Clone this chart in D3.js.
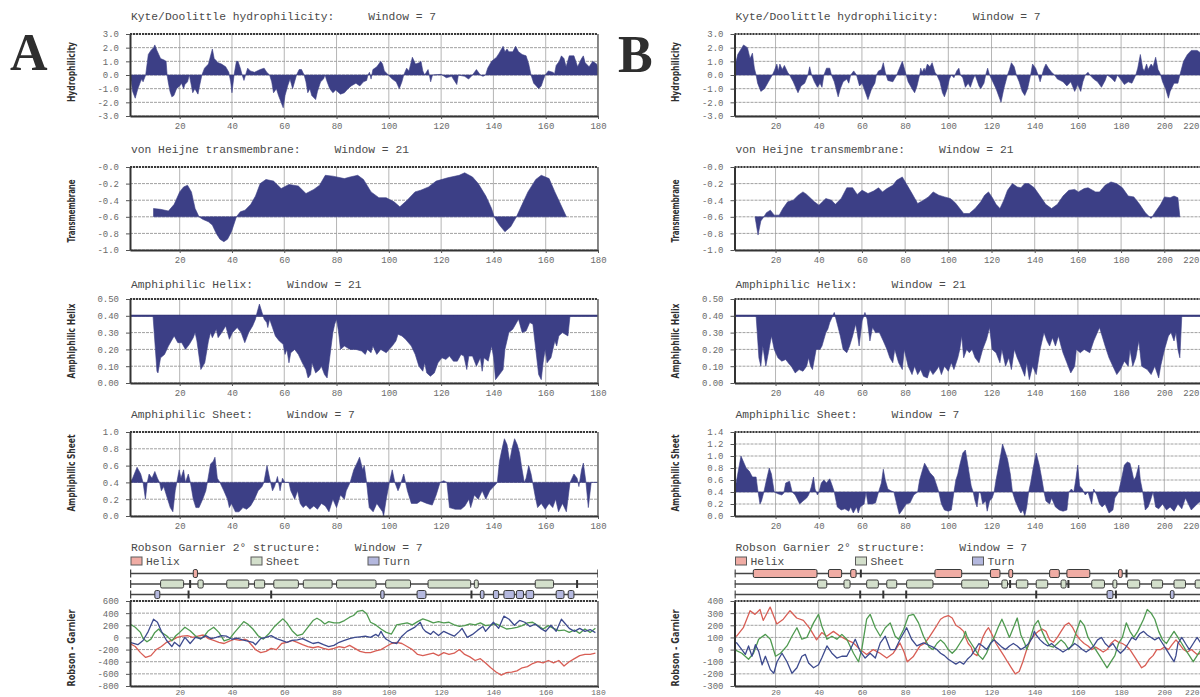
<!DOCTYPE html>
<html><head><meta charset="utf-8">
<script src="https://cdn.jsdelivr.net/npm/d3@7"></script>
<style>body{margin:0;background:#fff}svg{display:block}</style>
</head><body>
<svg id="c" width="1200" height="697"></svg>
<script>
// ---------- tick values and labels ----------
const xTicksA = [20,40,60,80,100,120,140,160,180];
const xTicksB = [20,40,60,80,100,120,140,160,180,200,220];
const hydroTicks = [3,2,1,0,-1,-2,-3];
const hydroLabels = ["3.0","2.0","1.0","0.0","-1.0","-2.0","-3.0"];
const transTicks = [0,-0.2,-0.4,-0.6,-0.8,-1.0];
const transLabels = ["-0.0","-0.2","-0.4","-0.6","-0.8","-1.0"];
const helixTicks = [0.5,0.4,0.3,0.2,0.1,0];
const helixLabels = ["0.50","0.40","0.30","0.20","0.10","0.00"];
const sheetTicksA = [1,0.8,0.6,0.4,0.2,0];
const sheetLabelsA = ["1.0","0.8","0.6","0.4","0.2","0.0"];
const sheetTicksB = [1.4,1.2,1,0.8,0.6,0.4,0.2,0];
const sheetLabelsB = ["1.4","1.2","1.0","0.8","0.6","0.4","0.2","0.0"];
const rgTicksA = [600,400,200,0,-200,-400,-600,-800];
const rgLabelsA = ["600","400","200","0","-200","-400","-600","-800"];
const rgTicksB = [400,300,200,100,0,-100,-200,-300];
const rgLabelsB = ["400","300","200","100","0","-100","-200","-300"];

// ---------- panel A series: [residue, value] ----------
const hydroA = [[1,0],[1.5,-0.5],[2,-1.2],[3,-1.7],[4,-1.0],[5,-0.5],[5.5,-0.3],[6,-0.5],[7,0],[8,1.5],[9,1.8],[10,2.0],[10.5,2.2],[11.3,1.8],[12,1.5],[12.7,1.2],[14,1.1],[14.8,1.0],[15.2,0],[15.6,-0.5],[16.3,-1.2],[17,-1.6],[17.8,-1.5],[18.8,-1.0],[20,-0.8],[20.7,-0.6],[21.5,-1.0],[22,-0.7],[23,-0.5],[23.7,0],[25,-1.3],[25.8,-1.0],[27,-1.4],[27.6,-0.8],[28.5,0],[29.5,0.5],[31,0.8],[32.5,1.9],[33.2,1.2],[34.7,0.9],[36,0.8],[37.6,0.6],[38.8,0.2],[39,0],[39.5,-0.5],[40,-1.3],[40.8,0],[41.7,1.0],[42.3,1.0],[43.2,0.5],[43.9,0],[44.6,-0.4],[45.2,0],[46,0.5],[47,0.3],[48.6,0.2],[50.8,0.4],[52.3,0.5],[53.3,0.2],[54.4,0],[55.2,-0.5],[55.9,-1.3],[57,-1.0],[57.8,-1.5],[59.6,-2.4],[60.3,-1.5],[61.3,-0.8],[62.2,-0.3],[63.2,-1.0],[64.7,0],[65.7,0.4],[66.6,0.4],[67.6,0],[68.3,-0.5],[69,-1.3],[69.8,-1.0],[70.5,-1.5],[72,-1.8],[72.7,-1.2],[73.9,-0.5],[75,-0.3],[75.6,0],[76.4,-0.5],[77.4,-1.0],[78.6,-1.3],[79.7,-1.1],[81.5,-1.4],[83,-1.3],[84.4,-1.0],[85.6,-0.8],[87.4,-0.6],[88.9,-0.8],[90.3,-0.5],[91.5,-0.4],[92,0],[92.6,0.2],[93.2,-0.3],[93.9,0.4],[95.4,0.6],[96.9,1.0],[97.6,0.8],[98.3,0.3],[99.8,0],[101.3,-0.3],[102.8,-0.5],[104,-1.0],[105,-0.5],[105.7,0],[106.8,0.5],[107.7,0.3],[109,1.3],[110.2,0.8],[111.6,0.9],[112.3,1.0],[113,0.3],[113.7,0],[115,0.4],[115.5,0],[116,-0.5],[116.7,0],[120,0.05],[122,-0.2],[124,-0.1],[126,-0.7],[126.6,0],[129,-0.1],[130.5,-0.3],[132,0],[133.5,0.4],[135,0],[136,-0.1],[137,0],[137.8,0.5],[139.3,1.0],[141.2,1.3],[142.2,1.6],[143.7,2.1],[144.4,1.7],[145.2,1.9],[145.9,1.7],[147.4,1.7],[148.5,2.1],[149.6,1.7],[151,1.5],[152.5,1.4],[153.5,0.8],[154.4,0],[155.4,-0.6],[156.4,-0.8],[157.3,-1.0],[158.3,-0.8],[159,-0.4],[159.8,0],[161,0.3],[162.7,0.2],[163.4,0.1],[164,0.7],[165.2,1.0],[166,1.4],[167,1.2],[167.8,0.6],[169,1.4],[170.8,1.4],[171.5,1.0],[172.2,0.6],[173.7,1.2],[174.4,1.4],[175.1,0.9],[176.6,0.6],[178,1.0],[179.5,0.8],[180,0.5]];

const transA = [[10,-0.5],[12.7,-0.51],[15.7,-0.53],[17.9,-0.45],[20,-0.3],[21.5,-0.24],[23,-0.22],[24.5,-0.3],[25.9,-0.5],[27.4,-0.6],[28.8,-0.63],[31,-0.66],[32.5,-0.7],[34,-0.8],[35.4,-0.87],[36.9,-0.9],[38.3,-0.87],[39.8,-0.78],[41.7,-0.6],[43.2,-0.54],[45,-0.52],[47.2,-0.45],[49,-0.35],[50.8,-0.2],[53,-0.15],[55.9,-0.17],[58.8,-0.26],[61.8,-0.21],[65.4,-0.23],[68.3,-0.32],[71.3,-0.27],[73.5,-0.22],[75.7,-0.1],[78.6,-0.11],[83,-0.14],[85.2,-0.12],[88.1,-0.1],[90.3,-0.15],[93.2,-0.3],[96.2,-0.37],[99,-0.37],[102,-0.42],[104.2,-0.48],[107,-0.4],[110,-0.3],[112.2,-0.28],[115.2,-0.24],[118.1,-0.17],[122.5,-0.13],[126.9,-0.1],[129,-0.07],[132,-0.12],[134.2,-0.2],[137.1,-0.35],[139.3,-0.5],[140.3,-0.6],[142.3,-0.7],[144.4,-0.78],[146.6,-0.72],[148.8,-0.6],[151,-0.45],[153.2,-0.3],[156.2,-0.15],[158.3,-0.1],[161.3,-0.14],[163.5,-0.3],[165.7,-0.45],[167.9,-0.6]];

const helixA = [[1,0.4],[9.8,0.4],[11.3,0.07],[11.7,0.06],[12.7,0.15],[14.2,0.17],[15.7,0.22],[17.9,0.28],[19.3,0.24],[20.8,0.24],[22.2,0.2],[23.7,0.23],[25.2,0.27],[25.9,0.3],[26.6,0.25],[28.1,0.08],[29.6,0.12],[31,0.25],[31.8,0.3],[32.5,0.27],[34,0.32],[34.7,0.27],[36.1,0.3],[37.6,0.34],[39,0.26],[40.2,0.3],[42,0.33],[43.5,0.3],[44.9,0.24],[46.4,0.3],[47.9,0.34],[49,0.38],[49.6,0.42],[50.5,0.47],[51.5,0.42],[52.3,0.38],[53.3,0.36],[53.7,0.33],[54.4,0.38],[55.5,0.33],[56.6,0.28],[58.1,0.25],[59.6,0.23],[60.3,0.17],[61,0.2],[61.8,0.12],[62.5,0.18],[64,0.2],[65.4,0.17],[66.9,0.12],[68.3,0.08],[69.1,0.03],[70.1,0.05],[70.6,0.12],[72,0.06],[73.5,0.08],[74.2,0.1],[75.4,0.05],[76.4,0.03],[78.6,0.3],[79.3,0.35],[80,0.38],[80.8,0.3],[81.5,0.2],[83,0.22],[85.2,0.2],[87.4,0.2],[89.6,0.19],[91,0.17],[91.8,0.2],[93.2,0.18],[93.9,0.22],[95.4,0.17],[96.9,0.2],[99,0.18],[101.3,0.22],[102.7,0.25],[103.5,0.29],[105,0.28],[106.4,0.26],[108.6,0.22],[110.1,0.17],[111.5,0.1],[113,0.07],[113.7,0.12],[114.5,0.06],[115.9,0.04],[117.4,0.06],[118.8,0.12],[120.3,0.15],[121.8,0.14],[123.2,0.16],[124.7,0.13],[126.2,0.13],[127.6,0.17],[128.7,0.16],[129.8,0.08],[130.6,0.16],[132,0.16],[133.5,0.1],[135,0.15],[135.7,0.07],[136.4,0.15],[138,0.13],[139.3,0.22],[140.1,0.15],[140.8,0.02],[142.3,0.05],[143.7,0.08],[144.4,0.2],[145.9,0.3],[147.4,0.32],[149.6,0.38],[151,0.3],[152.5,0.31],[153.9,0.36],[155.1,0.35],[156.2,0.2],[157.3,0.05],[158.3,0.02],[159,0.12],[159.8,0.2],[160.5,0.12],[162,0.15],[163.5,0.25],[164.2,0.22],[165,0.28],[166.4,0.3],[168.5,0.28],[169.3,0.4],[180,0.4]];

const sheetA = [[1,0.4],[2,0.45],[3.7,0.58],[5.1,0.5],[6,0.4],[6.9,0.2],[7.6,0.4],[8.3,0.5],[9.4,0.45],[10.5,0.53],[11.5,0.45],[12.3,0.4],[13,0.3],[13.9,0.35],[14.9,0.25],[16.4,0.1],[17.4,0.05],[18.3,0.3],[18.9,0.4],[19.8,0.55],[20.5,0.45],[21.5,0.55],[22.2,0.4],[23.3,0.5],[24.1,0.4],[25.2,0.2],[26.2,0.1],[27.4,0.1],[28.8,0.2],[30,0.3],[30.6,0.4],[31.8,0.62],[32.8,0.65],[33.5,0.7],[34.4,0.45],[35.4,0.4],[36.9,0.3],[38.3,0.2],[39,0.1],[39.8,0.15],[41.3,0.05],[42.7,0.05],[44.2,0.1],[45.6,0.08],[47.1,0.12],[48.6,0.2],[50,0.3],[51.5,0.35],[52.2,0.4],[53.4,0.6],[54.4,0.45],[55.5,0.3],[56.3,0.35],[57.4,0.47],[58.4,0.3],[59.3,0.45],[60.3,0.4],[61.8,0.4],[62.5,0.3],[64,0.2],[65.1,0.3],[66.1,0.15],[67.2,0.1],[68.3,0.13],[69.8,0.08],[71.3,0.12],[72.7,0.08],[74.2,0.15],[75.7,0.12],[77.1,0.05],[78.6,0.2],[80,0.1],[81.5,0.25],[83,0.2],[83.7,0.3],[85.2,0.4],[86.6,0.55],[88.1,0.65],[88.8,0.7],[90,0.55],[90.6,0.6],[91.5,0.4],[92.5,0.1],[94,0.05],[95.4,0.15],[97.6,0.05],[98,0.0],[99,0.2],[100.2,0.4],[101.3,0.55],[102.3,0.4],[103.5,0.3],[104.2,0.35],[105.7,0.5],[106.4,0.4],[107.1,0.3],[108.6,0.15],[110.8,0.15],[112.2,0.18],[114.5,0.15],[116.6,0.13],[118.1,0.25],[119.6,0.4],[121,0.42],[122.2,0.4],[123.2,0.1],[125.4,0.08],[127.6,0.08],[129.1,0.12],[130.6,0.2],[131.3,0.1],[132.7,0.25],[134.2,0.2],[135.7,0.3],[137.1,0.2],[138.6,0.3],[140.1,0.35],[141.5,0.4],[142.3,0.65],[143.3,0.8],[144.2,0.92],[145.2,0.85],[146.2,0.65],[147.1,0.8],[148.1,0.92],[149.1,0.85],[150,0.75],[150.7,0.6],[151.8,0.4],[152.5,0.45],[153.5,0.6],[154.4,0.5],[155,0.4],[156.2,0.2],[156.9,0.1],[158.3,0.15],[159.8,0.08],[161.3,0.15],[162.7,0.1],[163.8,0.2],[164.9,0.05],[166.4,0.15],[167.9,0.05],[169.3,0.4],[170.8,0.5],[172,0.45],[172.7,0.35],[173.7,0.55],[174.4,0.63],[175.4,0.4],[176.3,0.1],[177.4,0.4],[180,0.4]];

const rgHelixA = [[1,-100],[3,-150],[5,-250],[7,-330],[9,-300],[11,-200],[13,-150],[15,-80],[17,-50],[19,0],[21,20],[23,30],[25,0],[27,20],[29,40],[31,-20],[33,-50],[35,-80],[37,-100],[39,-60],[41,-30],[43,-50],[45,-30],[46,-50],[48,-150],[49,-200],[51,-250],[53,-230],[55,-180],[57,-200],[59,-100],[61,-80],[63,-50],[65,-80],[67,-120],[69,-150],[71,-170],[73,-150],[75,-180],[77,-200],[79,-180],[81,-150],[83,-170],[85,-130],[87,-180],[89,-230],[91,-250],[93,-250],[95,-220],[97,-200],[99,-150],[101,-100],[103,-80],[105,-100],[107,-150],[109,-200],[111,-280],[113,-300],[115,-280],[117,-260],[119,-300],[121,-250],[123,-280],[125,-260],[127,-200],[129,-280],[131,-320],[133,-380],[135,-350],[137,-420],[139,-500],[141,-570],[143,-620],[145,-580],[147,-570],[149,-550],[151,-500],[153,-480],[155,-430],[157,-400],[159,-420],[161,-380],[163,-420],[165,-380],[167,-470],[169,-400],[171,-350],[173,-300],[175,-280],[177,-280],[179,-260]];
const rgSheetA = [[1,222],[3,167],[5,83],[6,-17],[7.5,-72],[9,-28],[10.5,83],[12,139],[13,83],[15,28],[17,-56],[18.5,28],[20,83],[22,167],[24,111],[26,28],[28,-28],[29.5,28],[31,111],[33,167],[35,83],[37,-56],[39,-28],[41,83],[43,183],[44.5,261],[46,222],[48,139],[50,28],[52,-28],[54,56],[56,167],[58,250],[59.5,306],[61,239],[63,111],[65,28],[67,56],[69,167],[71,278],[72.5,317],[74,278],[75.5,222],[77,261],[79,239],[81,239],[83,278],[85,333],[86.5,361],[88,428],[90,444],[91.5,389],[93,250],[95,206],[97,139],[99,83],[101,56],[103,206],[105,222],[107,239],[109,206],[111,261],[113,306],[115,278],[117,239],[119,261],[121,239],[123,250],[125,206],[127,183],[129,194],[131,222],[133,206],[135,239],[137,194],[139,206],[141,222],[143,183],[145,139],[147,150],[149,167],[151,194],[153,239],[155,250],[157,194],[159,139],[161,194],[163,150],[165,111],[167,122],[169,83],[171,122],[173,67],[175,139],[177,83],[179,150]];
const rgTurnA = [[1,-80],[4,-120],[6,-50],[8,100],[10,300],[11.5,250],[13,100],[15,-50],[17,-150],[18,-80],[20,-150],[22,0],[24,-100],[26,0],[28,-20],[30,30],[32,-20],[34,0],[36,30],[38,20],[40,-30],[42,-10],[44,-40],[46,-60],[48,-80],[49,-120],[51,-20],[53,0],[55,30],[57,-20],[59,-50],[61,-80],[63,-50],[65,-40],[67,-20],[69,-60],[71,-100],[73,-80],[75,-120],[77,-150],[79,-130],[81,-80],[83,-50],[85,-20],[87,0],[89,10],[91,20],[93,0],[95,50],[96,20],[97,100],[98,20],[99,-30],[101,-80],[103,-100],[105,20],[107,100],[110,170],[112,250],[113,150],[114,100],[116,50],[117,100],[119,30],[121,100],[123,60],[125,20],[127,100],[128,150],[130,0],[132,50],[134,120],[136,180],[137,100],[139,200],[140,250],[142,150],[144,350],[146,300],[148,200],[150,280],[152,250],[154,180],[156,220],[158,150],[160,100],[162,200],[164,100],[166,300],[167,250],[169,150],[171,100],[173,150],[175,100],[177,130],[179,80]];

// structure tracks (segments [start,end] and single-residue ticks)
const helixSegA = [[25.2,26.8]];
const helixTickA = [];
const sheetSegA = [[12.7,21.5],[27,29],[38,46.4],[48.6,52.5],[56,65.4],[67.3,78.3],[80,95.1],[98.8,108.3],[115,131.3],[132.7,134.2],[156,163]];
const sheetTickA = [24,172];
const turnSegA = [[10.5,12.4],[96.9,98.2],[110.8,114.2],[135,136.4],[140,142],[144,148],[148.8,151.5],[152.5,155.4],[164,167],[168.6,170.8]];
const turnTickA = [23.4,55,131.6];

// ---------- panel B series ----------
const hydroB = [[1,0.5],[2.5,1.5],[5.2,2.2],[7,2.0],[8.2,1.2],[9.3,1.6],[10.2,0.5],[11,0],[11.7,-0.6],[13.2,-1.2],[14.9,-1.0],[16.7,-0.5],[18.5,0],[19.4,0.3],[20.6,0.8],[21.3,0.3],[22,0.8],[23.1,0.4],[24.1,0.7],[25.6,0.2],[26.5,0],[28.2,-0.5],[30.4,-1.3],[31.8,-0.8],[33.5,-0.6],[35,0],[35.8,0.6],[36.7,0],[38,-0.5],[39.4,-0.9],[40.6,-0.6],[41.5,-0.9],[42.4,0],[43.6,0.5],[45.1,0.5],[45.9,0],[47.2,-0.5],[49,-1.6],[50,-1.0],[51.3,-0.5],[53,-0.3],[53.9,-0.6],[54.8,0],[56.2,0.3],[57.5,0],[58.9,-0.8],[60.1,-0.6],[62.8,-1.8],[64.5,-1.0],[66,-0.6],[66.7,0],[67.7,0.3],[69,0.4],[69.9,0.9],[70.8,0.2],[72,-0.4],[74.3,-0.5],[76.1,0],[78.7,1.0],[80.5,0],[81.4,-0.5],[83.2,-1.0],[84.4,-1.3],[85.5,-0.8],[86.7,0],[87.2,0.5],[87.9,0.2],[88.8,0.5],[89.3,0.3],[90.3,0.8],[91.5,0.6],[92.5,0.9],[93.8,0.2],[94.7,0],[96.1,-0.5],[97.3,-1.3],[98.2,-1.6],[99.5,-1.0],[100.5,-0.3],[101.4,0],[102.6,-0.2],[103.9,0.3],[104.9,0.5],[105.6,0],[106.7,-0.2],[107.9,-0.9],[109.2,-0.6],[110.2,-0.9],[111.5,-0.3],[112.4,0],[114.2,-0.8],[115,-1.0],[116.5,-0.6],[117.3,0],[118.2,0.5],[119.1,0],[122.1,-1.0],[124.4,-2.0],[125.7,-1.0],[126.9,-0.3],[127.4,0],[128.3,0.4],[129.2,0.9],[130.5,0.6],[131.5,0],[132.8,-0.5],[134.2,-1.2],[135.4,-1.5],[136.7,-1.0],[138.1,0],[139,0.8],[140.4,0.5],[141.1,0.2],[141.6,0],[142.5,-0.5],[143.4,0],[144.3,0.5],[145.2,0.8],[146.4,0.5],[147.8,0.2],[149.2,0],[150.5,-0.3],[153.1,-0.5],[154.9,-0.8],[156.7,-0.5],[158.5,-1.2],[159.9,-0.7],[161.3,-1.2],[162.3,-0.5],[163.4,0],[164.7,0.2],[165.5,0],[167.3,-0.3],[169.1,-0.5],[170.9,-0.9],[172.6,-0.4],[173.5,0],[175.3,-0.2],[177.1,-0.5],[178.3,0],[179.7,-0.3],[181.5,-0.7],[183.3,-0.5],[185,-0.6],[186.8,0],[187.7,0.5],[188.9,1.5],[190,0.5],[190.7,0.3],[191.8,0.8],[192.5,0.4],[193.9,0.8],[194.8,0.6],[196,1.3],[197.1,0.4],[197.8,0.2],[198.3,0],[199.2,-0.5],[200.6,-1.0],[201.9,-1.7],[202.7,-1.2],[204.5,-0.6],[206.3,-0.6],[207.2,0],[208.9,1.0],[210.7,1.5],[212.5,1.8],[215.2,1.8],[217,1.6],[219,1.2]];

const transB = [[10.5,-0.6],[11.9,-0.82],[13.2,-0.65],[14.6,-0.6],[15.8,-0.55],[17.6,-0.52],[19.4,-0.58],[21.7,-0.58],[23.4,-0.5],[25.6,-0.42],[28.2,-0.4],[30.5,-0.34],[32.7,-0.3],[34.4,-0.33],[38,-0.42],[40.1,-0.46],[43.3,-0.38],[45.9,-0.4],[47.7,-0.45],[50.4,-0.38],[53,-0.25],[55.7,-0.25],[57.8,-0.33],[60.1,-0.28],[62.8,-0.32],[65.4,-0.29],[67.7,-0.25],[69.5,-0.3],[71.6,-0.26],[74.3,-0.22],[76.1,-0.16],[78.7,-0.12],[80.5,-0.2],[83.2,-0.32],[85.8,-0.44],[88.5,-0.4],[90.8,-0.36],[93,-0.3],[95.6,-0.34],[98.2,-0.36],[100.9,-0.38],[103.2,-0.43],[105.3,-0.5],[107.1,-0.56],[109.7,-0.56],[112.4,-0.5],[115,-0.42],[116.8,-0.34],[118.6,-0.3],[120.4,-0.37],[122.1,-0.45],[123.9,-0.5],[125.7,-0.4],[127.4,-0.28],[129.7,-0.2],[131.9,-0.24],[133.6,-0.25],[135.4,-0.2],[137.2,-0.2],[139.8,-0.25],[142.5,-0.35],[145.1,-0.45],[147.8,-0.5],[150.5,-0.45],[153.1,-0.35],[155.8,-0.28],[158.5,-0.27],[160.2,-0.3],[162.9,-0.26],[164.7,-0.25],[168.2,-0.3],[170,-0.3],[172.6,-0.22],[175.3,-0.18],[177.9,-0.2],[180.6,-0.25],[183.3,-0.35],[185.9,-0.36],[188.6,-0.45],[191.2,-0.55],[193.9,-0.62],[195.6,-0.55],[198.3,-0.45],[200.1,-0.36],[202.7,-0.37],[204.5,-0.35],[206.3,-0.37],[207.2,-0.6]];

const helixB = [[1,0.4],[11,0.4],[12.3,0.15],[13.2,0.1],[14.1,0.22],[15.5,0.1],[16.7,0.18],[18.1,0.28],[19.4,0.2],[21.1,0.15],[22.9,0.13],[24.7,0.14],[26.5,0.11],[27.3,0.1],[29.1,0.06],[30.9,0.08],[32.7,0.07],[34.4,0.1],[35.3,0.15],[36.2,0.1],[37.1,0.08],[38.8,0.2],[40.6,0.2],[41.5,0.22],[43.3,0.3],[44.2,0.32],[45.1,0.36],[46.5,0.4],[47.2,0.42],[48.6,0.35],[50,0.28],[51.3,0.2],[53,0.18],[54.3,0.22],[55.7,0.28],[57.1,0.35],[57.8,0.3],[58.7,0.22],[60.1,0.37],[61.4,0.42],[62.4,0.38],[63.7,0.25],[64.9,0.33],[66.3,0.3],[68.1,0.3],[69.9,0.25],[71.6,0.2],[72.9,0.15],[74.3,0.12],[75.2,0.2],[77,0.12],[78.7,0.08],[79.6,0.2],[81.4,0.1],[83.2,0.05],[84.4,0.1],[85.8,0.05],[87.2,0.08],[88.5,0.04],[90.3,0.03],[91.5,0.08],[92.9,0.05],[94.7,0.08],[95.6,0.1],[96.8,0.05],[98.2,0.1],[100,0.07],[101.4,0.12],[102.6,0.08],[104.4,0.15],[105.3,0.2],[106.2,0.28],[107.1,0.15],[108.5,0.2],[109.7,0.18],[111,0.2],[112.4,0.15],[114.2,0.12],[115.9,0.2],[117.7,0.26],[119.1,0.33],[120.3,0.2],[122.1,0.18],[123.9,0.12],[124.8,0.2],[126.5,0.1],[128,0.15],[129.2,0.08],[130.6,0.2],[131.9,0.15],[133.6,0.1],[135.4,0.04],[136.3,0.12],[137.5,0.02],[139,0.1],[140.7,0.05],[142.5,0.2],[144.3,0.3],[145.7,0.25],[146.9,0.22],[148.2,0.27],[149.6,0.22],[151,0.28],[152.2,0.22],[153.1,0.18],[154.9,0.12],[156.7,0.06],[158.5,0.1],[159.3,0.2],[161.1,0.18],[162.9,0.2],[165.5,0.18],[167.3,0.25],[170,0.33],[171.2,0.28],[172.6,0.22],[174.4,0.15],[176.2,0.1],[178,0.05],[179.7,0.08],[181.5,0.13],[183.3,0.1],[184.1,0.2],[185.4,0.1],[186.8,0.15],[188.2,0.25],[189.5,0.1],[192.1,0.08],[193.9,0.05],[195.6,0.1],[197.4,0.03],[198.3,0.1],[200.1,0.2],[201.9,0.28],[203.1,0.3],[204.5,0.25],[205.4,0.3],[206.3,0.2],[207.2,0.15],[208.1,0.4],[225,0.4]];

const sheetB = [[1,0.4],[2.5,0.7],[4,1.0],[5.2,0.9],[6.4,0.8],[7.8,0.75],[9.3,0.65],[11,0.65],[11.7,0.45],[12.8,0.2],[13.5,0.25],[14.6,0.4],[15.8,0.6],[17.1,0.8],[18.1,0.7],[19.4,0.4],[21.1,0.37],[22.9,0.35],[23.8,0.38],[24.7,0.55],[26.5,0.58],[27.7,0.4],[29.1,0.35],[30.5,0.25],[31.2,0.2],[32.7,0.25],[34.4,0.3],[35.3,0.35],[35.8,0.4],[36.5,0.48],[37.6,0.65],[38.3,0.45],[39.4,0.35],[40.1,0.4],[41.2,0.55],[42.4,0.6],[43.6,0.55],[45.1,0.62],[46.3,0.5],[47.2,0.4],[48.6,0.15],[50.4,0.1],[52.1,0.12],[53.9,0.08],[54.8,0.15],[56,0.05],[57.5,0.15],[58.3,0.05],[59.2,0.15],[61,0.2],[61.9,0.4],[62.8,0.2],[64.9,0.2],[66.3,0.22],[67.7,0.4],[69,0.55],[69.9,0.78],[70.8,0.6],[72,0.45],[73.4,0.42],[74.8,0.4],[76.1,0.2],[77.3,0.03],[78.7,0.1],[80.5,0.2],[82.3,0.22],[84,0.35],[85.8,0.4],[86.7,0.6],[87.9,0.75],[89,0.88],[90.3,0.8],[91.5,0.72],[93.3,0.65],[94.7,0.5],[95.6,0.4],[96.8,0.2],[98.2,0.1],[100,0.08],[101.4,0.1],[102.6,0.4],[103.5,0.6],[104.4,0.7],[105.3,0.85],[106.7,1.05],[107.9,1.1],[108.8,0.9],[109.7,0.7],[110.6,0.5],[111.5,0.4],[112.4,0.25],[113.3,0.15],[114.2,0.4],[115,0.38],[115.9,0.2],[117.3,0.25],[118,0.08],[119.1,0.25],[120.3,0.3],[121.2,0.4],[122.1,0.6],[123.4,0.85],[124.4,1.05],[125.1,1.2],[126.5,1.05],[127.4,0.95],[128.7,0.7],[129.7,0.4],[131,0.25],[132.8,0.1],[133.6,0.05],[134.5,0.1],[135.4,0.0],[136.3,0.15],[137.2,0.4],[138.1,0.55],[139.3,0.8],[140.7,1.05],[142.1,0.85],[143.4,0.6],[144.3,0.4],[145.2,0.25],[146.9,0.2],[147.8,0.3],[149.6,0.15],[151.4,0.1],[153.1,0.08],[154.9,0.1],[155.8,0.4],[157,0.45],[158.1,0.4],[159,0.6],[159.9,0.85],[160.8,0.5],[162,0.45],[163.4,0.35],[164.7,0.4],[165.5,0.3],[166.4,0.2],[167.3,0.45],[168.7,0.35],[170,0.2],[171.2,0.15],[172.6,0.2],[174.4,0.05],[176.2,0.1],[177.1,0.3],[178.8,0.4],[180.1,0.6],[181.5,0.85],[182.9,0.9],[184.1,0.88],[185,0.75],[185.9,0.6],[186.8,0.65],[188.2,0.85],[188.9,0.6],[190,0.4],[191.2,0.1],[192.5,0.15],[193.5,0.25],[194.8,0.4],[196,0.15],[197.4,0.12],[199.2,0.2],[201,0.1],[202.7,0.15],[204.5,0.08],[206.3,0.2],[208.1,0.12],[209.8,0.3],[212.5,0.1],[215.2,0.2],[217,0.25],[219,0.3]];

const rgHelixB = [[1,110],[2,110],[5.1,180],[8.2,320],[10.5,290],[12.8,330],[14.3,240],[17.5,350],[20.6,210],[23.6,250],[26.7,320],[29.8,260],[32.9,240],[36,170],[39,80],[41.4,140],[43.7,110],[46.8,150],[49.9,110],[53,80],[56,55],[59.1,0],[62.2,-40],[65.3,0],[68.4,-30],[71.5,-70],[74.5,-30],[77.6,55],[79.5,-20],[81,-100],[83.7,-60],[86.9,30],[89,50],[91.1,100],[92.9,150],[94.7,200],[96.4,250],[98.2,270],[100,280],[101.8,260],[103.5,200],[105.3,180],[107.1,150],[108,100],[109.2,50],[110.6,20],[111.5,-30],[113.3,-50],[114.2,0],[115,50],[115.9,100],[117.3,150],[118.6,180],[119.5,150],[120.9,100],[122.1,50],[123.9,0],[125.7,-50],[127.4,-100],[129.2,-150],[131,-200],[132.8,-180],[134.5,-100],[136.3,0],[138.1,80],[139.8,120],[141.6,150],[143.4,170],[145.2,150],[146.9,80],[148.7,60],[150.5,100],[152.2,150],[154,200],[155.8,220],[157.6,180],[159.3,120],[161.1,80],[162.9,50],[164.7,30],[166.4,0],[168.2,20],[170,0],[171.7,-20],[173.5,0],[175.3,50],[177.1,80],[178.8,60],[180.6,50],[182.4,30],[184.1,0],[185.9,-50],[187.7,-100],[189.5,-150],[191.2,-130],[193,-80],[194.8,-50],[196.5,0],[198.3,0],[200.1,20],[201.9,0],[203.6,40],[205.4,80],[207.2,40],[208.9,0],[210.7,-20],[212.5,0],[215.2,-40],[217,-30]];
const rgSheetB = [[1,0],[4.4,-30],[7.5,-80],[9.8,-30],[12.2,85],[15.3,125],[17.6,85],[20,-55],[22.3,-30],[25.3,30],[27.6,110],[29.9,180],[32.2,85],[34.5,100],[37.6,220],[39.9,290],[41.4,195],[43.8,85],[46.1,110],[48.4,85],[50.7,125],[53,85],[56.1,-30],[58.4,-100],[59.9,0],[62.2,250],[63.8,290],[66.2,180],[68.5,110],[70.8,180],[73.1,220],[75.4,110],[77,85],[79.3,165],[81.6,280],[83.9,290],[86.2,220],[88.5,110],[91.1,20],[92.9,0],[94.7,50],[96.4,80],[98.2,50],[100,0],[101.8,-30],[103.5,0],[105.3,50],[107.1,100],[107.9,150],[108.8,100],[110.6,50],[112.4,0],[114.2,-50],[115.9,-80],[117.7,-30],[119.5,50],[121.2,100],[123,180],[124.8,250],[126.5,180],[128.3,100],[130.1,180],[131.9,260],[133.6,120],[135.4,50],[136.3,0],[138.1,100],[139.8,200],[141.6,240],[143.4,150],[145.2,80],[146.9,30],[148.7,20],[150.5,50],[152.2,80],[154,50],[155.8,0],[157.6,50],[159.3,150],[161.1,240],[162.9,200],[164.7,100],[166.4,50],[168.2,0],[170,-50],[171.7,-100],[173.5,-150],[175.3,-100],[177.1,-50],[178.8,50],[180.6,100],[182.4,220],[184.1,150],[185.9,100],[187.7,150],[190.4,250],[192.1,330],[193.9,300],[195.6,250],[197.4,150],[199.2,80],[201,50],[202.7,100],[204.5,150],[206.3,100],[208.1,50],[209.8,0],[211.6,-50],[213.4,-100],[215.2,-50],[217,0]];
const rgTurnB = [[1,60],[2,55],[4.4,0],[6,-40],[7.5,30],[9.1,-55],[10.7,40],[12.2,-15],[13.8,-125],[15.3,-55],[17.6,-165],[19.2,-195],[20.7,-100],[23,-30],[25.3,-100],[27.6,-195],[29.9,-150],[32.2,-55],[33.8,-40],[35.3,-110],[37.6,-150],[39.9,-125],[41.4,-70],[43.8,30],[46.1,-30],[48.4,-70],[50.7,-55],[53,-55],[54.6,0],[56.9,85],[59.2,-15],[61.5,-70],[63.8,-30],[66.2,-70],[68.5,55],[70.8,110],[73.1,0],[75.4,0],[77.7,85],[80.7,180],[83,85],[85.4,30],[88.5,55],[90.5,40],[92.9,20],[94.7,0],[96.4,-30],[98.2,-50],[100,-80],[101.8,-100],[103.5,-120],[105.3,-100],[107.1,-120],[108.8,-80],[110.6,-50],[112.4,0],[114.2,50],[115.9,30],[117.7,0],[119.5,50],[121.2,80],[123,50],[124.8,20],[126.5,0],[128.3,30],[130.1,50],[131.9,30],[133.6,0],[135.4,20],[137.2,50],[139,100],[139.8,150],[140.7,120],[142.5,80],[144.3,50],[146.1,30],[147.8,50],[149.6,20],[151.4,0],[153.1,-20],[154.9,0],[156.7,20],[158.5,50],[160.2,30],[162,0],[163.8,-20],[165.5,0],[167.3,30],[169.1,80],[170.9,100],[172.6,50],[174.4,20],[176.2,50],[178,0],[179.7,-30],[181.5,0],[183.3,50],[185,100],[186.8,80],[188.6,130],[190.4,150],[192.1,120],[193.9,100],[195.6,80],[197.4,100],[199.2,50],[201,0],[202.7,-50],[204.5,-100],[205.4,-50],[206.3,50],[208.1,100],[209.8,50],[211.6,0],[213.4,50],[215.2,100],[217,50]];

const helixSegB = [[9.7,39.2],[44.5,50.6],[54.8,57.3],[93.8,106.2],[119.5,123.9],[128,129.8],[146.9,151.4],[154.9,165.5],[178.8,180.5]];
const helixTickB = [59.5,182.5];
const sheetSegB = [[39.5,43.7],[51.7,54.5],[62.2,67.6],[71.5,76.1],[80.7,92.9],[106.2,118.6],[124.8,127.4],[131.5,136.8],[140.7,146],[152.2,154.5],[166.4,172.3],[176.2,178],[183,188.6],[194.1,199.2],[204.5,209.8],[214.3,218]];
const sheetTickB = [128.6,155.6];
const turnSegB = [[173.5,176.2],[202.8,204.5]];
const turnTickB = [59.2,69.9,80.5,140.7,177.6];

// ---------- drawing ----------
const svg = d3.select('#c');
const NAVY = '#3c3f86';
const MONO = '"Liberation Mono","DejaVu Sans Mono",monospace';
const COL = {helix:'#d85e55', sheet:'#4f9a50', turn:'#3d4a8e'};
const BOXFILL = {helix:'#f0aca4', sheet:'#d3dfcb', turn:'#b4b8de'};

const panels = [
  {letter:'A', letterX:10, letterY:70, domain:[1,180], range:[130,598], xTicks:xTicksA, labelX:75,
   hydro:hydroA, trans:transA, helix:helixA,
   sheet:sheetA, sheetTicks:sheetTicksA, sheetLabels:sheetLabelsA, sheetDomain:[0,1],
   rg:[rgHelixA,rgSheetA,rgTurnA], rgTicks:rgTicksA, rgLabels:rgLabelsA, rgDomain:[-800,600],
   segs:[helixSegA,sheetSegA,turnSegA], ticks:[helixTickA,sheetTickA,turnTickA]},
  {letter:'B', letterX:618, letterY:72, domain:[1,225], range:[734.5,1218.3], xTicks:xTicksB, labelX:679,
   hydro:hydroB, trans:transB, helix:helixB,
   sheet:sheetB, sheetTicks:sheetTicksB, sheetLabels:sheetLabelsB, sheetDomain:[0,1.4],
   rg:[rgHelixB,rgSheetB,rgTurnB], rgTicks:rgTicksB, rgLabels:rgLabelsB, rgDomain:[-300,400],
   segs:[helixSegB,sheetSegB,turnSegB], ticks:[helixTickB,sheetTickB,turnTickB]}
];

function rowsFor(P){
  return [
    {title:'Kyte/Doolittle hydrophilicity:', win:'Window = 7', titleY:20, top:34, bottom:116,
     domain:[-3,3], ticks:hydroTicks, labels:hydroLabels, data:P.hydro, base:0,
     ylabel:'Hydrophilicity', ylen:60, ycy:72},
    {title:'von Heijne transmembrane:', win:'Window = 21', titleY:153, top:167, bottom:250,
     domain:[-1,0], ticks:transTicks, labels:transLabels, data:P.trans, base:-0.6,
     ylabel:'Transmembrane', ylen:63, ycy:211},
    {title:'Amphiphilic Helix:', win:'Window = 21', titleY:288, top:299, bottom:383,
     domain:[0,0.5], ticks:helixTicks, labels:helixLabels, data:P.helix, base:0.4, baseLine:true,
     ylabel:'Amphiphilic Helix', ylen:75, ycy:341},
    {title:'Amphiphilic Sheet:', win:'Window = 7', titleY:418, top:432, bottom:516,
     domain:P.sheetDomain, ticks:P.sheetTicks, labels:P.sheetLabels, data:P.sheet, base:0.4,
     ylabel:'Amphiphilic Sheet', ylen:77, ycy:473},
    {title:'Robson Garnier 2\u00b0 structure:', win:'Window = 7', titleY:551, top:601, bottom:686,
     domain:P.rgDomain, ticks:P.rgTicks, labels:P.rgLabels, rg:true, xFont:8, xPad:1, xTick:2,
     ylabel:'Robson - Garnier', ylen:77, ycy:648}
  ];
}

panels.forEach(P => {
  const x = d3.scaleLinear().domain(P.domain).range(P.range);
  const x0 = P.range[0];
  const clipId = 'clip' + P.letter;
  svg.append('clipPath').attr('id', clipId).append('rect')
    .attr('x', x0).attr('y', 0).attr('width', P.range[1] - x0).attr('height', 697);

  svg.append('text').attr('x', P.letterX).attr('y', P.letterY).text(P.letter)
    .attr('font-family','"Liberation Serif","DejaVu Serif",serif').attr('font-weight','bold')
    .attr('font-size', 52).attr('fill', '#2e2e2e');

  rowsFor(P).forEach(R => {
    const y = d3.scaleLinear().domain(R.domain).range([R.bottom, R.top]);
    const g = svg.append('g');

    // title
    g.append('text').attr('x', x0 + 1).attr('y', R.titleY)
      .style('white-space','pre')
      .attr('font-family', MONO).attr('font-size', 11.3).attr('fill', '#4a4a4a')
      .text(R.title + '     ' + R.win);

    // rotated y label
    g.append('text').attr('transform', `translate(${P.labelX},${R.ycy}) rotate(-90)`)
      .attr('text-anchor','middle').attr('font-family','"DejaVu Sans Condensed","Liberation Sans Narrow","DejaVu Sans",sans-serif')
      .attr('font-weight','bold').attr('font-size', 10.5).attr('fill','#303030')
      .attr('textLength', R.ylen).attr('lengthAdjust','spacingAndGlyphs')
      .text(R.ylabel);

    // grid
    const grid = g.append('g').attr('clip-path', `url(#${clipId})`);
    grid.selectAll('line.v').data(P.xTicks).join('line')
      .attr('x1', d => x(d)).attr('x2', d => x(d)).attr('y1', R.top).attr('y2', R.bottom)
      .attr('stroke', '#b5b5b5').attr('stroke-width', 1);
    grid.selectAll('line.h').data(R.ticks).join('line')
      .attr('x1', x0).attr('x2', P.range[1]).attr('y1', d => y(d)).attr('y2', d => y(d))
      .attr('stroke', '#a0a0a0').attr('stroke-width', 1).attr('stroke-dasharray', '3,1');

    const plot = g.append('g').attr('clip-path', `url(#${clipId})`);
    if (!R.rg) {
      if (R.baseLine) {
        plot.append('line').attr('x1', x0).attr('x2', P.range[1])
          .attr('y1', y(R.base)).attr('y2', y(R.base)).attr('stroke', '#2f3170').attr('stroke-width', 2);
      }
      const area = d3.area().x(d => x(d[0])).y0(y(R.base)).y1(d => y(d[1]));
      plot.append('path').datum(R.data).attr('d', area)
        .attr('fill', NAVY).attr('stroke', NAVY).attr('stroke-width', 0.6);
    } else {
      const line = d3.line().x(d => x(d[0])).y(d => y(d[1]));
      const keys = ['helix','sheet','turn'];
      P.rg.forEach((s, i) => {
        plot.append('path').datum(s).attr('d', line).attr('fill','none')
          .attr('stroke', COL[keys[i]]).attr('stroke-width', 1.3).attr('stroke-linejoin','round');
      });
      // legend
      const legNames = ['Helix','Sheet','Turn'];
      const legOff = [1,121,238];
      keys.forEach((k, i) => {
        g.append('rect').attr('x', x0 + legOff[i]).attr('y', 557).attr('width', 11).attr('height', 8)
          .attr('fill', BOXFILL[k]).attr('stroke', '#5a5a5a').attr('stroke-width', 1);
        g.append('text').attr('x', x0 + legOff[i] + 15).attr('y', 564.5).text(legNames[i])
          .attr('font-family', MONO).attr('font-size', 11.3).attr('fill', '#4a4a4a');
      });
      // structure tracks
      const trackY = [573.5, 584, 594.5];
      const tr = g.append('g').attr('clip-path', `url(#${clipId})`);
      keys.forEach((k, i) => {
        const ty = trackY[i];
        tr.append('line').attr('x1', x0).attr('x2', P.range[1]).attr('y1', ty).attr('y2', ty)
          .attr('stroke', '#444').attr('stroke-width', 1.5);
        tr.append('line').attr('x1', x0 + 0.5).attr('x2', x0 + 0.5).attr('y1', ty - 4).attr('y2', ty + 4)
          .attr('stroke', '#444').attr('stroke-width', 1.5);
        tr.append('line').attr('x1', x(P.domain[1])).attr('x2', x(P.domain[1])).attr('y1', ty - 4).attr('y2', ty + 4)
          .attr('stroke', '#444').attr('stroke-width', 1.5);
        tr.selectAll(null).data(P.ticks[i]).join('line')
          .attr('x1', d => x(d)).attr('x2', d => x(d)).attr('y1', ty - 4).attr('y2', ty + 4)
          .attr('stroke', '#333').attr('stroke-width', 2);
        tr.selectAll(null).data(P.segs[i]).join('rect')
          .attr('x', d => x(d[0])).attr('width', d => Math.max(3, x(d[1]) - x(d[0])))
          .attr('y', ty - 4).attr('height', 8).attr('rx', 1.5)
          .attr('fill', BOXFILL[k]).attr('stroke', '#3a3a3a').attr('stroke-width', 1);
      });
    }

    // axes
    const yAxis = d3.axisLeft(y).tickValues(R.ticks).tickFormat((d, i) => R.labels[i])
      .tickSize(4).tickSizeOuter(0).tickPadding(7);
    const ya = g.append('g').attr('transform', `translate(${x0},0)`).call(yAxis);
    const xAxis = d3.axisBottom(x).tickValues(P.xTicks).tickSize(R.xTick || 3).tickSizeOuter(0).tickPadding(R.xPad || 4);
    const xa = g.append('g').attr('transform', `translate(0,${R.bottom})`).call(xAxis);
    [ya, xa].forEach(a => {
      a.select('.domain').attr('stroke', '#333').attr('stroke-width', 2);
      a.selectAll('.tick line').attr('stroke', '#555');
      a.selectAll('.tick text').attr('font-family', MONO).attr('font-size', 9).attr('fill', '#6a6a6a');
    });
    if (R.xFont) xa.selectAll('.tick text').attr('font-size', R.xFont);
    // keep labels near the right picture edge inside the picture
    xa.selectAll('.tick').each(function(d) {
      if (x(d) + 10 > 1200) {
        d3.select(this).select('text').attr('text-anchor', 'end').attr('x', 1199 - x(d));
      }
    });
    // top border (dotted dark) and right edge
    g.append('line').attr('x1', x0).attr('x2', P.range[1]).attr('y1', R.top).attr('y2', R.top)
      .attr('stroke', '#3a3a3a').attr('stroke-width', 2).attr('stroke-dasharray', '2,1');
    if (P.range[1] <= 1200) {
      g.append('line').attr('x1', P.range[1]).attr('x2', P.range[1]).attr('y1', R.top).attr('y2', R.bottom)
        .attr('stroke', '#666').attr('stroke-width', 1.5);
    }
  });
});
</script>
</body></html>
